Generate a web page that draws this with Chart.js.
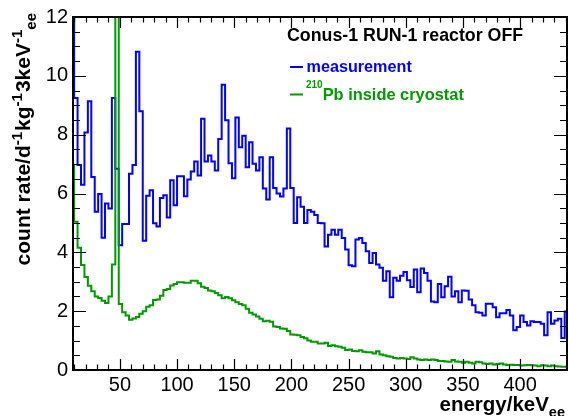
<!DOCTYPE html>
<html><head><meta charset="utf-8">
<script src="https://cdn.jsdelivr.net/npm/chart.js@4.4.1/dist/chart.umd.min.js"></script>
<style>html,body{margin:0;padding:0;background:#fff}canvas{display:block}</style>
</head><body>
<canvas id="c" width="569" height="416"></canvas>
<script>
// ---- data (3 keV bins, first bin starts at 7 keV) ----
const binStart = 7;
const binWidth = 3;
const measurement = [
 14,9.25,6.97,6.3,8.07,9.14,6.56,5.38,5.98,4.5,
 5.66,5.49,9.25,6.84,4.24,4.96,4.96,6.67,6.97,10.82,
 8.8,4.39,5.92,6.11,4.99,4.88,5.85,5.94,5.18,6.45,
 5.6,6.59,6.59,5.91,6.48,6.75,7.09,6.61,8.54,7.09,
 7.29,7.09,6.78,7.85,9.7,8.49,7.03,6.52,8.58,7.57,
 7.96,6.89,7.74,7.01,6.78,7.23,6.17,5.8,7.23,6.19,
 6.0,5.9,6.17,8.21,6.19,5.0,5.87,5.55,5.0,5.44,
 5.38,5.27,5.0,4.99,4.2,4.6,4.77,4.6,4.77,4.49,
 4.1,3.56,3.53,4.44,4.49,4.32,4.04,3.64,3.98,3.59,
 3.48,3.03,3.36,2.47,3.14,3.03,3.2,3.33,3.05,2.82,
 3.42,2.64,3.45,3.3,3.03,2.33,2.3,2.92,2.47,2.85,
 3.17,2.5,2.68,2.3,2.7,2.69,2.4,2.2,1.96,1.95,
 1.85,2.25,2.25,2.13,1.79,1.93,1.93,2.04,1.85,1.35,
 1.46,1.85,1.63,1.51,1.66,1.63,1.63,1.57,1.18,1.96,
 1.57,1.68,1.74,1.09,1.99
];
const pb210 = [
 6.95,5.04,4.16,3.57,3.16,2.86,2.68,2.5,2.45,2.35,
 2.28,2.5,3.59,30,2.24,1.96,1.85,1.71,1.75,1.8,
 1.91,2.0,2.15,2.2,2.38,2.4,2.52,2.72,2.75,2.87,
 2.92,2.98,2.98,2.97,2.97,3.03,3.03,2.95,2.83,2.79,
 2.7,2.68,2.62,2.54,2.44,2.48,2.44,2.37,2.3,2.24,
 2.2,2.08,1.95,1.89,1.82,1.74,1.66,1.67,1.64,1.48,
 1.46,1.41,1.4,1.33,1.21,1.2,1.18,1.12,1.08,1.0,
 0.96,0.96,0.9,0.9,0.93,0.82,0.84,0.81,0.79,0.76,
 0.68,0.7,0.65,0.64,0.67,0.62,0.6,0.6,0.56,0.64,
 0.53,0.5,0.47,0.45,0.41,0.39,0.41,0.39,0.37,0.43,
 0.39,0.36,0.34,0.36,0.34,0.36,0.34,0.31,0.31,0.29,
 0.28,0.34,0.29,0.28,0.25,0.28,0.25,0.22,0.28,0.26,
 0.22,0.2,0.22,0.19,0.2,0.22,0.19,0.17,0.18,0.17,
 0.17,0.15,0.16,0.17,0.16,0.15,0.13,0.16,0.15,0.13,
 0.15,0.13,0.12,0.11,0.11
];
const xTickLabels = [50,100,150,200,250,300,350,400];
const yTickLabels = [0,2,4,6,8,10,12];
const xRange = [9, 441];
const yRange = [0, 12];

const FONT = "'Liberation Sans', Arial, Helvetica, sans-serif";

function toSteps(vals){
  const pts = [{x: binStart, y: 0}];
  vals.forEach((v, i) => pts.push({x: binStart + i * binWidth, y: v}));
  const end = binStart + vals.length * binWidth;
  pts.push({x: end, y: vals[vals.length - 1]});
  pts.push({x: end, y: 0});
  return pts;
}

function drawRich(ctx, segs, x, y){
  let cx = x;
  segs.forEach(s => {
    ctx.font = 'bold ' + s.size + 'px ' + FONT;
    ctx.fillStyle = s.color || '#000';
    ctx.fillText(s.text, cx, y + (s.dy || 0));
    cx += ctx.measureText(s.text).width + (s.gap || 0);
  });
  return cx - x;
}
function richWidth(ctx, segs){
  let w = 0;
  segs.forEach(s => { ctx.font = 'bold ' + s.size + 'px ' + FONT; w += ctx.measureText(s.text).width + (s.gap || 0); });
  return w;
}

const framePlugin = {
  id: 'rootFrame',
  afterDatasetsDraw(chart){
    const ctx = chart.ctx, a = chart.chartArea;
    const xs = chart.scales.x, ys = chart.scales.y;
    ctx.save();
    ctx.strokeStyle = '#000';
    ctx.lineWidth = 1.2;
    ctx.beginPath();
    for (let v = 10; v <= 440; v += 10){
      const px = Math.round(xs.getPixelForValue(v)) + 0.5;
      const L = (v % 50 === 0) ? 11 : 5.5;
      ctx.moveTo(px, a.bottom); ctx.lineTo(px, a.bottom - L);
      ctx.moveTo(px, a.top); ctx.lineTo(px, a.top + L);
    }
    for (let v = 0; v <= 12.001; v += 0.5){
      const py = Math.round(ys.getPixelForValue(v)) + 0.5;
      const L = (Math.abs(v % 2) < 1e-6) ? 13 : 7;
      ctx.moveTo(a.left, py); ctx.lineTo(a.left + L, py);
      ctx.moveTo(a.right, py); ctx.lineTo(a.right - L, py);
    }
    ctx.stroke();
    ctx.lineWidth = 2;
    ctx.strokeRect(a.left, a.top, a.right - a.left, a.bottom - a.top);
    ctx.restore();
  },
  afterDraw(chart){
    const ctx = chart.ctx;
    ctx.save();
    ctx.textBaseline = 'alphabetic';
    ctx.textAlign = 'left';
    // x title
    const xt = [{text:'energy/keV', size:20.5}, {text:'ee', size:14.5, dy:6}];
    drawRich(ctx, xt, 565 - richWidth(ctx, xt), 411);
    // y title (rotated)
    const yt = [
      {text:'count rate/d', size:21}, {text:'-1', size:15, dy:-8, gap:1},
      {text:'kg', size:21}, {text:'-1', size:15, dy:-8, gap:1},
      {text:'3keV', size:21}, {text:'-1', size:15, dy:-8},
      {text:'ee', size:15, dy:6}
    ];
    ctx.translate(30, 13);
    ctx.rotate(-Math.PI / 2);
    drawRich(ctx, yt, -richWidth(ctx, yt), 0);
    ctx.restore();
    // legend
    ctx.save();
    drawRich(ctx, [{text:'Conus-1 RUN-1 reactor OFF', size:17.8}], 287, 41);
    ctx.lineWidth = 2;
    ctx.strokeStyle = '#0000ff';
    ctx.beginPath(); ctx.moveTo(290, 67); ctx.lineTo(303, 67); ctx.stroke();
    drawRich(ctx, [{text:'measurement', size:16.2, color:'#0000ff'}], 306.5, 72);
    ctx.strokeStyle = '#009a00';
    ctx.beginPath(); ctx.moveTo(290, 94.5); ctx.lineTo(303, 94.5); ctx.stroke();
    drawRich(ctx, [{text:'210', size:10, color:'#009a00', dy:-12},
                   {text:'Pb inside cryostat', size:16.4, color:'#009a00'}], 306, 99.5);
    ctx.restore();
  }
};

new Chart(document.getElementById('c').getContext('2d'), {
  type: 'line',
  data: {
    datasets: [
      {label: 'measurement', data: toSteps(measurement), borderColor: '#0000ff',
       borderWidth: 2, stepped: 'before', pointRadius: 0, fill: false, order: 1},
      {label: '210Pb inside cryostat', data: toSteps(pb210), borderColor: '#009a00',
       borderWidth: 2, stepped: 'before', pointRadius: 0, fill: false, order: 0}
    ]
  },
  options: {
    responsive: false, animation: false, devicePixelRatio: 1,
    layout: {padding: {left: 0, top: 13, right: 2, bottom: 0}},
    plugins: {legend: {display: false}, tooltip: {enabled: false}, title: {display: false}},
    scales: {
      x: {type: 'linear', min: xRange[0], max: xRange[1],
          grid: {display: false, drawTicks: false}, border: {display: false},
          afterBuildTicks: s => { s.ticks = xTickLabels.map(v => ({value: v})); },
          afterFit: s => { s.height = 46; },
          ticks: {font: {family: FONT, size: 20}, color: '#000', padding: 3,
                  maxRotation: 0, autoSkip: false}},
      y: {type: 'linear', min: yRange[0], max: yRange[1],
          grid: {display: false, drawTicks: false}, border: {display: false},
          afterBuildTicks: s => { s.ticks = yTickLabels.map(v => ({value: v})); },
          afterFit: s => { s.width = 73; },
          ticks: {font: {family: FONT, size: 20}, color: '#000', padding: 5}}
    }
  },
  plugins: [framePlugin]
});
</script>
</body></html>
